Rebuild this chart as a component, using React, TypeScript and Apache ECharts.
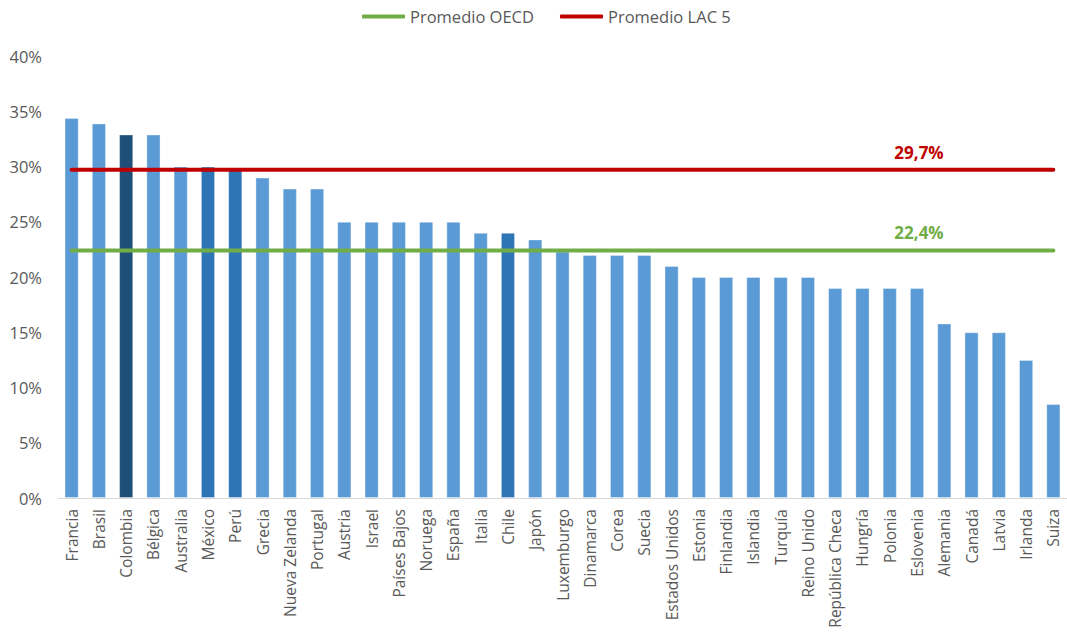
import React, { useEffect, useRef } from "react";
import * as echarts from "echarts";

const countries = [
  "Francia", "Brasil", "Colombia", "Bélgica", "Australia", "México", "Perú", "Grecia",
  "Nueva Zelanda", "Portugal", "Austria", "Israel", "Países Bajos", "Noruega", "España",
  "Italia", "Chile", "Japón", "Luxemburgo", "Dinamarca", "Corea", "Suecia", "Estados Unidos",
  "Estonia", "Finlandia", "Islandia", "Turquía", "Reino Unido", "República Checa", "Hungría",
  "Polonia", "Eslovenia", "Alemania", "Canadá", "Latvia", "Irlanda", "Suiza",
];
const values = [
  34.4, 33.9, 32.9, 32.9, 30.0, 30.0, 29.8, 29.0,
  28.0, 28.0, 25.0, 25.0, 25.0, 25.0, 25.0,
  24.0, 24.0, 23.4, 22.3, 22.0, 22.0, 22.0, 21.0,
  20.0, 20.0, 20.0, 20.0, 20.0, 19.0, 19.0,
  19.0, 19.0, 15.8, 15.0, 15.0, 12.5, 8.5,
];
const highlightDark = ["Colombia"];
const highlightMid = ["México", "Perú", "Chile"];
const oecdAvg = 22.4;
const lac5Avg = 29.7;
const avgLabelIndex = 31;
const yTicks = [0, 5, 10, 15, 20, 25, 30, 35, 40];

const FONT = "'Open Sans', sans-serif";

export default function App() {
  const ref = useRef<HTMLDivElement>(null);
  useEffect(() => {
    if (!ref.current) return;
    const chart = echarts.init(ref.current, null, { renderer: "svg" });
    const barData = values.map((v, i) => {
      const c = countries[i];
      let color = "#5B9BD5";
      if (highlightDark.includes(c)) color = "#1F4E79";
      else if (highlightMid.includes(c)) color = "#2E75B6";
      return { value: v, itemStyle: { color } };
    });
    const lineData = (avg: number, color: string) =>
      countries.map((_, i) =>
        i === avgLabelIndex
          ? {
              value: avg,
              label: {
                show: true,
                position: "top",
                distance: 9,
                offset: [2, 0],
                formatter: avg.toFixed(1).replace(".", ",") + "%",
                color,
                fontFamily: FONT,
                fontWeight: "bold",
                fontSize: 17,
              },
            }
          : { value: avg }
      );
    const lineSeries = (name: string, avg: number, color: string) => ({
      name,
      type: "line",
      data: lineData(avg, color),
      symbol: "circle",
      symbolSize: 0.01,
      showSymbol: true,
      showAllSymbol: true,
      itemStyle: { color },
      lineStyle: { color, width: 4, cap: "round" },
      emphasis: { disabled: true },
      z: 5,
    });
    chart.setOption({
      animation: false,
      textStyle: { fontFamily: FONT },
      legend: {
        data: [
          { name: "Promedio OECD", icon: "roundRect" },
          { name: "Promedio LAC 5", icon: "roundRect" },
        ],
        top: 3,
        left: 357,
        itemWidth: 43,
        itemHeight: 4,
        itemGap: 26,
        textStyle: { color: "#595959", fontSize: 16.5, fontFamily: FONT },
      },
      grid: { left: 58, right: 0, top: 56, bottom: 142, containLabel: false },
      xAxis: {
        type: "category",
        data: countries,
        axisLine: { lineStyle: { color: "#D9D9D9", width: 1 } },
        axisTick: { show: false },
        axisLabel: {
          rotate: 90,
          interval: 0,
          margin: 11,
          color: "#595959",
          fontSize: 15.5,
          fontFamily: FONT,
        },
      },
      yAxis: {
        type: "value",
        min: 0,
        max: 40,
        interval: 5,
        splitLine: { show: false },
        axisLine: { show: false },
        axisTick: { show: false },
        axisLabel: {
          margin: 16,
          color: "#595959",
          fontSize: 16.5,
          fontFamily: FONT,
          formatter: (v: number) => (yTicks.includes(v) ? v + "%" : ""),
        },
      },
      series: [
        {
          type: "bar",
          data: barData,
          barWidth: "52%",
          itemStyle: { borderColor: "rgba(255,255,255,0.35)", borderWidth: 1 },
        },
        lineSeries("Promedio OECD", oecdAvg, "#70AD47"),
        lineSeries("Promedio LAC 5", lac5Avg, "#C00000"),
      ],
    });
    return () => chart.dispose();
  }, []);
  return (
    <div
      ref={ref}
      style={{ position: "fixed", left: 0, top: 0, width: 1067, height: 640, background: "#fff" }}
    />
  );
}
